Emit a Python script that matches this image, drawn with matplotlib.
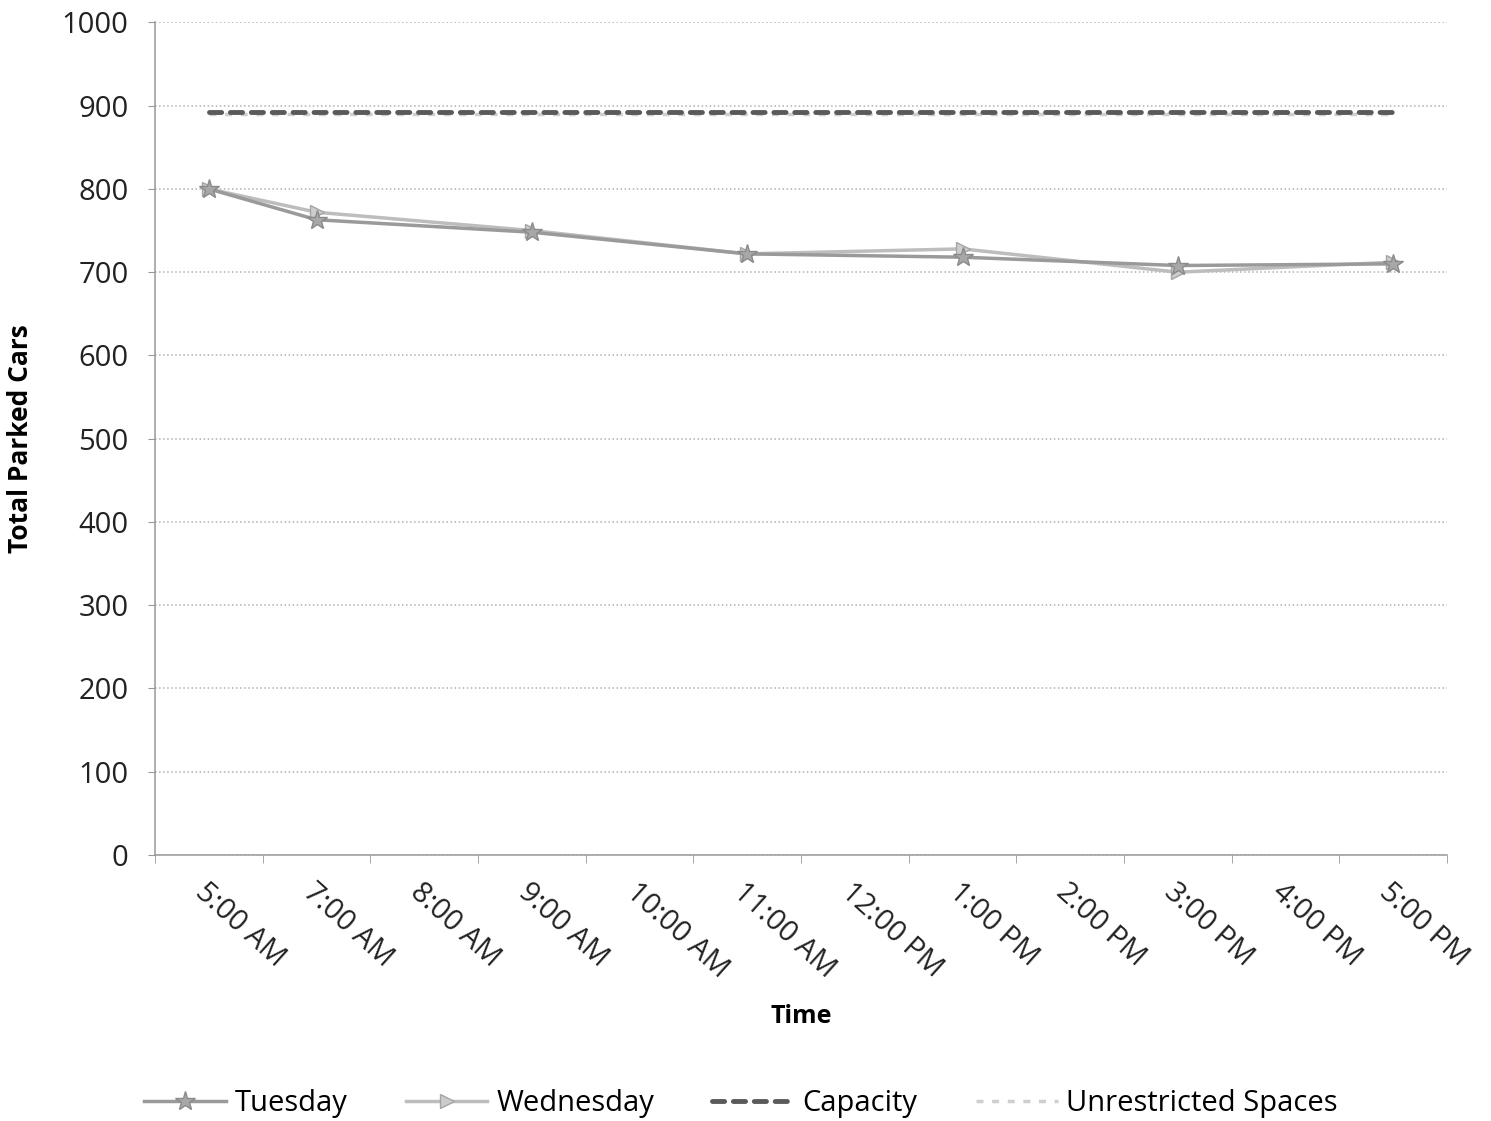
import numpy as np
import matplotlib
matplotlib.use("Agg")
from matplotlib import pyplot as plt

plt.rcParams['font.family'] = ['Open Sans', 'DejaVu Sans']

times = ["5:00 AM", "7:00 AM", "8:00 AM", "9:00 AM", "10:00 AM", "11:00 AM",
         "12:00 PM", "1:00 PM", "2:00 PM", "3:00 PM", "4:00 PM", "5:00 PM"]
# counts were only taken at some hours; None = no count
tuesday = [800, 763, None, 748, None, 722, None, 718, None, 708, None, 710]
wednesday = [800, 772, None, 750, None, 722, None, 728, None, 700, None, 712]
capacity = [893] * 12
unrestricted = [890] * 12

x = np.arange(len(times))


def counted(vals):
    idx = [i for i, v in enumerate(vals) if v is not None]
    return x[idx], [vals[i] for i in idx]


fig = plt.figure(figsize=(14.91, 11.21), dpi=100)
ax = fig.add_axes([0.104, 0.2373, 0.8665, 0.7427])

tx, ty = counted(tuesday)
wx, wy = counted(wednesday)
ax.plot(tx, ty, color='#9a9a9a', lw=2.5, marker='*', ms=15, mfc='#a8a8a8',
        mec='#8a8a8a', label='Tuesday', zorder=4)
ax.plot(wx, wy, color='#bdbdbd', lw=2.5, marker='>', ms=10, mfc='#cccccc',
        mec='#a5a5a5', label='Wednesday', zorder=3)
ax.plot(x, capacity, color='#5a5a5a', lw=3.5, ls=(0, (2.5, 1.8)),
        dash_capstyle='round', label='Capacity', zorder=3)
ax.plot(x, unrestricted, color='#cfcfcf', lw=2.5, ls=(0, (2, 2.5)),
        label='Unrestricted Spaces', zorder=2)

ax.set_xlim(-0.5, len(times) - 0.5)
ax.set_ylim(0, 1000)
ax.set_yticks(np.arange(0, 1001, 100))
ax.yaxis.grid(True, color='#b0b0b0', ls=':', lw=1.1)
ax.set_axisbelow(True)

ax.set_xticks(x)
ax.set_xticklabels(times, rotation=-42, ha='left', rotation_mode='anchor',
                   fontsize=21, color='#222222')
ax.set_xticks(np.arange(-0.5, len(times), 1), minor=True)
ax.tick_params(axis='x', which='major', length=0, pad=16)
ax.tick_params(axis='x', which='minor', length=6, color='#999999')
ax.tick_params(axis='y', labelsize=21, length=5, color='#999999', pad=14,
               labelcolor='#222222')

for s in ['top', 'right']:
    ax.spines[s].set_visible(False)
for s in ['left', 'bottom']:
    ax.spines[s].set_color('#999999')
    ax.spines[s].set_linewidth(1.1)

ax.set_ylabel('Total Parked Cars', fontsize=19, fontweight='bold', labelpad=20)
ax.set_xlabel('Time', fontsize=18, fontweight='bold', labelpad=15)

fig.legend(loc='lower center', bbox_to_anchor=(0.497, -0.021), ncol=4,
           frameon=False, fontsize=21, handlelength=2.8, columnspacing=2.0,
           handletextpad=0.3)

fig.savefig('out.png', dpi=100)
